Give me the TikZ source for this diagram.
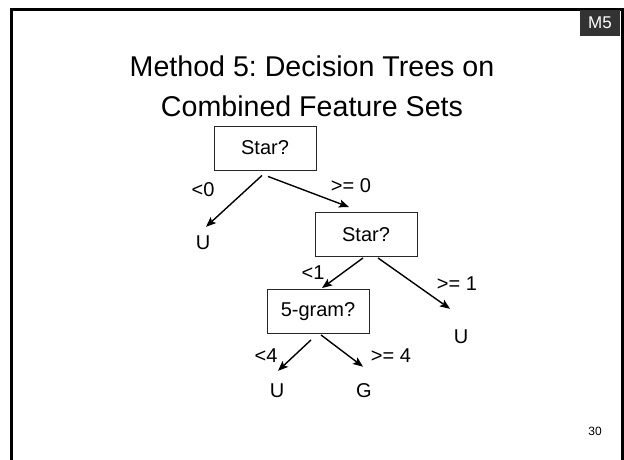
\documentclass[tikz,border=0pt]{standalone}
\usepackage{fontspec}
\setmainfont{Liberation Sans}
\usetikzlibrary{arrows.meta,positioning}
\definecolor{tagdark}{RGB}{51,51,51}
\frenchspacing

\begin{document}
\begin{tikzpicture}[
    x=1pt, y=-1pt,
    on grid,
    test/.style={draw=black!85, line width=0.9pt, rectangle, minimum width=102pt, minimum height=44pt, inner sep=0pt, font=\fontsize{20}{24}\selectfont},
    leaf/.style={inner sep=2pt, font=\fontsize{20}{24}\selectfont},
    cond/.style={midway, inner sep=0pt, font=\fontsize{20}{24}\selectfont},
    arrow/.style={-{Stealth[length=10pt,width=8pt,inset=2pt]}, line width=1.4pt}
]
    \useasboundingbox (0,0) rectangle (624,459);

    % Slide frame (open at the bottom) and slide tag
    \draw[line width=3pt] (11.3,470) -- (11.3,9.3) -- (622,9.3) -- (622,470);
    \node[fill=tagdark, text=white, minimum width=40pt, minimum height=26pt, inner sep=0pt, font=\fontsize{17}{20}\selectfont] (tag) at (600,23) {M5};
    \node[align=center, font=\fontsize{28.6}{40}\selectfont] (title) at (312,86.5) {Method 5: Decision Trees on\\Combined Feature Sets};

    % Tests
    \node[test] (star1) at (265,148) {Star?};
    \node[test] (star2) [below right=86.5pt and 101pt of star1] {Star?};
    \node[test] (gram) [below left=77pt and 48pt of star2] {5-gram?};

    % Leaves
    \node[leaf] (u1) [below left=95pt and 62pt of star1] {U};
    \node[leaf] (u2) [below right=102.5pt and 95pt of star2] {U};
    \node[leaf] (u3) [below left=79.5pt and 41pt of gram] {U};
    \node[leaf] (g) [below right=79.5pt and 46pt of gram] {G};

    % Branches
    \draw[arrow] ([xshift=-3pt,yshift=-5pt]star1.south) -- node[cond, xshift=-31pt, yshift=12pt] {<0} ([xshift=3pt,yshift=7pt]u1.north);
    \draw[arrow] ([xshift=3pt,yshift=-6pt]star1.south) -- node[cond, xshift=42.5pt, yshift=6pt] {>= 0} ([xshift=-17pt,yshift=5pt]star2.north);
    \draw[arrow] ([xshift=-3pt,yshift=-1pt]star2.south) -- node[cond, xshift=-29.5pt] {<1} ([xshift=4pt,yshift=1pt]gram.north);
    \draw[arrow] ([xshift=12pt,yshift=-1pt]star2.south) -- node[cond, xshift=43pt] {>= 1} ([xshift=-11pt,yshift=19pt]u2.north);
    \draw[arrow] ([xshift=-7pt,yshift=-6pt]gram.south) -- node[cond, xshift=-28.5pt] {<4} ([xshift=1pt,yshift=11pt]u3.north);
    \draw[arrow] ([xshift=3pt,yshift=-1pt]gram.south) -- node[cond, xshift=49pt, yshift=-4.5pt] {>= 4} ([xshift=-1pt,yshift=15pt]g.north);

    % Page number
    \node[font=\fontsize{12}{14}\selectfont] (pagenum) at (595,431) {30};
\end{tikzpicture}
\end{document}
